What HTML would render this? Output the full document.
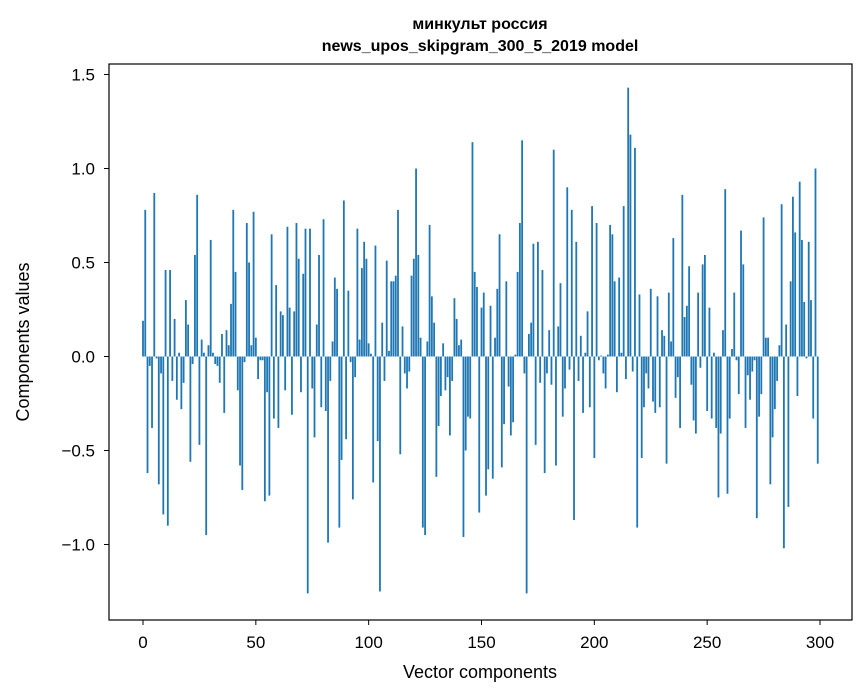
<!DOCTYPE html>
<html><head><meta charset="utf-8"><style>
html,body{margin:0;padding:0;background:#fff;}
svg{display:block;font-family:"Liberation Sans","DejaVu Sans",sans-serif;}
</style></head><body>
<svg id="chart" width="867" height="696" viewBox="0 0 867 696">
<text x="480" y="29" text-anchor="middle" font-size="16" font-weight="bold">минкульт россия</text>
<text x="480" y="51" text-anchor="middle" font-size="16" font-weight="bold">news_upos_skipgram_300_5_2019 model</text>
<g id="bars"></g>
<g id="xticks"></g>
<g id="yticks"></g>
<rect x="109" y="64" width="743" height="556" fill="none" stroke="#000" stroke-width="1.2"/>
<text x="480" y="678" text-anchor="middle" font-size="18">Vector components</text>
<text transform="translate(29,342) rotate(-90)" text-anchor="middle" font-size="18">Components values</text>
</svg>
<script>
const values = [
0.19,0.78,-0.62,-0.05,-0.38,0.87,-0.01,-0.68,-0.09,-0.84,
0.46,-0.90,0.46,-0.13,0.20,-0.23,0.02,-0.28,-0.14,0.30,
0.17,-0.56,-0.04,0.54,0.86,-0.47,0.09,0.02,-0.95,0.06,
0.62,0.02,-0.04,-0.05,-0.14,0.12,-0.30,0.14,0.06,0.28,
0.78,0.45,-0.18,-0.58,-0.71,-0.03,0.71,0.50,0.06,0.77,
0.10,-0.12,-0.02,-0.02,-0.77,-0.19,-0.74,0.65,-0.33,0.38,
-0.38,0.24,0.22,-0.18,0.69,0.26,-0.31,0.24,0.71,0.52,
-0.19,0.44,0.68,-1.26,0.68,-0.17,-0.43,0.17,0.54,-0.27,
0.73,-0.29,-0.99,-0.13,0.08,0.42,0.36,-0.91,-0.55,0.83,
-0.44,0.35,-0.03,-0.76,-0.11,0.68,0.09,0.47,0.61,0.52,
0.07,0.015,-0.67,0.59,-0.45,-1.25,0.18,-0.13,0.51,0.03,
0.40,0.40,0.43,0.78,-0.52,0.16,-0.09,-0.17,-0.08,0.43,
0.52,1.00,0.54,0.10,-0.91,-0.95,0.08,0.70,0.32,0.18,
-0.64,-0.37,-0.21,0.07,-0.18,-0.11,-0.42,-0.13,0.31,0.20,
0.06,0.09,-0.96,-0.50,-0.32,-0.33,1.14,0.45,0.37,-0.83,
0.26,0.34,-0.74,-0.60,0.27,-0.65,0.10,0.36,0.65,-0.59,
-0.36,0.40,-0.16,-0.42,-0.35,0.01,0.45,0.71,1.15,-0.09,
-1.26,0.12,0.18,0.60,-0.47,0.61,-0.14,0.46,-0.62,-0.09,
0.14,-0.15,1.10,-0.58,0.16,0.39,-0.32,-0.17,0.90,-0.07,
0.78,-0.87,0.61,-0.13,0.11,-0.30,0.02,0.24,-0.27,0.80,
-0.54,0.71,-0.02,0.005,-0.09,-0.17,0.01,0.70,0.65,0.40,
-0.19,0.42,0.02,0.80,-0.12,1.43,1.18,-0.08,1.11,-0.91,
0.33,-0.54,-0.27,-0.09,-0.17,0.36,-0.24,-0.30,0.32,-0.27,
0.14,0.11,-0.57,0.34,0.08,0.63,-0.22,-0.11,-0.38,0.86,
0.21,0.27,0.48,-0.15,-0.34,-0.41,0.34,-0.06,0.49,0.54,
-0.29,0.26,-0.33,0.02,-0.38,-0.75,-0.41,0.14,0.89,-0.73,
-0.33,0.04,0.34,-0.02,-0.20,0.67,0.49,-0.38,-0.10,-0.23,
-0.08,-0.02,-0.86,-0.32,-0.20,0.74,0.10,0.10,-0.68,-0.43,
-0.28,-0.13,0.06,0.81,-1.02,0.17,-0.80,0.40,0.85,0.66,
-0.21,0.93,0.62,0.29,-0.01,0.61,0.30,-0.33,1.00,-0.57
];
const xTickValues = [0,50,100,150,200,250,300];
const yTickValues = [-1.0,-0.5,0.0,0.5,1.0,1.5];
const yTickLabels = ["\u22121.0","\u22120.5","0.0","0.5","1.0","1.5"];

const NS = "http://www.w3.org/2000/svg";
function xScale(v){ return 143 + v * (677/300); }
function yScale(v){ return 356.5 - v * 188; }
const barW = 0.8 * (677/300);

const barsG = document.getElementById('bars');
values.forEach(function(v, i){
  const r = document.createElementNS(NS, 'rect');
  const y0 = yScale(0), y1 = yScale(v);
  r.setAttribute('x', xScale(i) - barW/2);
  r.setAttribute('y', Math.min(y0, y1));
  r.setAttribute('width', barW);
  r.setAttribute('height', Math.abs(y1 - y0));
  r.setAttribute('fill', '#1f77b4');
  
  
  barsG.appendChild(r);
});

const xg = document.getElementById('xticks');
xTickValues.forEach(function(t){
  const x = xScale(t);
  const l = document.createElementNS(NS, 'line');
  l.setAttribute('x1', x); l.setAttribute('x2', x);
  l.setAttribute('y1', 620); l.setAttribute('y2', 625);
  l.setAttribute('stroke', '#000');
  
  
  xg.appendChild(l);
  const tx = document.createElementNS(NS, 'text');
  tx.setAttribute('x', x); tx.setAttribute('y', 648);
  tx.setAttribute('text-anchor', 'middle');
  tx.setAttribute('font-size', '17');
  tx.textContent = String(t);
  
  
  xg.appendChild(tx);
});

const yg = document.getElementById('yticks');
yTickValues.forEach(function(t, i){
  const y = yScale(t);
  const l = document.createElementNS(NS, 'line');
  l.setAttribute('x1', 104); l.setAttribute('x2', 109);
  l.setAttribute('y1', y); l.setAttribute('y2', y);
  l.setAttribute('stroke', '#000');
  
  
  yg.appendChild(l);
  const tx = document.createElementNS(NS, 'text');
  tx.setAttribute('x', 95); tx.setAttribute('y', y + 6);
  tx.setAttribute('text-anchor', 'end');
  tx.setAttribute('font-size', '17');
  tx.textContent = yTickLabels[i];
  
  
  yg.appendChild(tx);
});
</script>
</body></html>
